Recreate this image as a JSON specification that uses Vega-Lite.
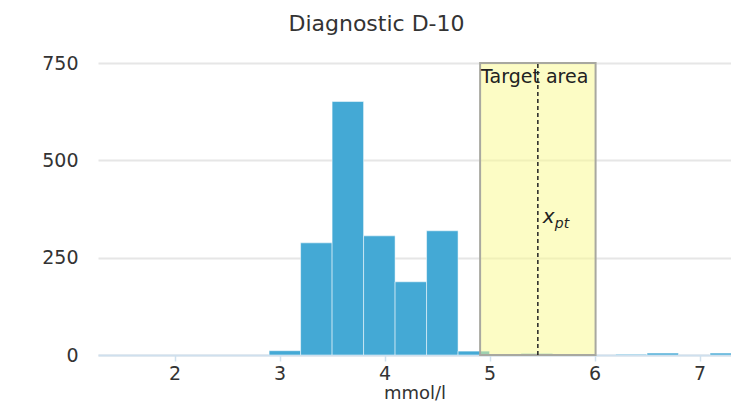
{
  "$schema": "https://vega.github.io/schema/vega-lite/v6.json",
  "autosize": "none",
  "padding": {"left": 98, "top": 63, "right": 0, "bottom": 52},
  "width": 633,
  "height": 292,
  "background": "white",
  "title": {"text": "Diagnostic D-10", "fontSize": 22, "font": "DejaVu Sans", "fontWeight": "normal", "color": "#333333", "anchor": "middle", "dx": -38, "offset": 18},
  "datasets": {
    "bins": [
      {"start": 2.9, "end": 3.2, "count": 11},
      {"start": 3.2, "end": 3.5, "count": 288},
      {"start": 3.5, "end": 3.8, "count": 651},
      {"start": 3.8, "end": 4.1, "count": 306},
      {"start": 4.1, "end": 4.4, "count": 188},
      {"start": 4.4, "end": 4.7, "count": 319},
      {"start": 4.7, "end": 5.0, "count": 10},
      {"start": 5.3, "end": 5.6, "count": 4},
      {"start": 6.2, "end": 6.5, "count": 2},
      {"start": 6.5, "end": 6.8, "count": 5},
      {"start": 7.1, "end": 7.4, "count": 5}
    ],
    "area": [{"x1": 4.91, "x2": 6.01, "y1": 0, "y2": 750, "xpt": 5.46, "label": "Target area"}]
  },
  "layer": [
    {
      "data": {"name": "bins"},
      "mark": {"type": "bar", "color": "#44a9d5", "stroke": "#ffffff", "strokeWidth": 1, "strokeOpacity": 0.5, "clip": true},
      "encoding": {
        "x": {"field": "start", "type": "quantitative", "scale": {"domain": [1.27, 7.3], "nice": false, "zero": false}, "axis": {"title": "mmol/l", "values": [2, 3, 4, 5, 6, 7], "format": "d", "grid": false, "domainColor": "#cfe0ee", "domainWidth": 2, "tickColor": "#cfe0ee", "tickSize": 6, "tickWidth": 1.5, "labelPadding": 3, "titlePadding": 1, "titleFontSize": 18}},
        "x2": {"field": "end"},
        "y": {"field": "count", "type": "quantitative", "scale": {"domain": [0, 750], "nice": false}, "axis": {"title": null, "values": [0, 250, 500, 750], "grid": true, "gridColor": "#e6e6e6", "gridWidth": 2, "domain": false, "ticks": false, "labelPadding": 20}},
        "y2": {"datum": 0}
      }
    },
    {
      "data": {"name": "area"},
      "mark": {"type": "rect", "fill": "#fafa8c", "fillOpacity": 0.5, "stroke": "#a8a8a0", "strokeWidth": 2},
      "encoding": {
        "x": {"field": "x1", "type": "quantitative"},
        "x2": {"field": "x2"},
        "y": {"field": "y1", "type": "quantitative"},
        "y2": {"field": "y2"}
      }
    },
    {
      "data": {"name": "area"},
      "mark": {"type": "rule", "color": "#222222", "strokeWidth": 1.5, "strokeDash": [4, 3]},
      "encoding": {
        "x": {"field": "xpt", "type": "quantitative"},
        "y": {"field": "y1", "type": "quantitative"},
        "y2": {"field": "y2"}
      }
    },
    {
      "data": {"name": "area"},
      "mark": {"type": "text", "align": "left", "baseline": "top", "dx": 1, "dy": 5, "fontSize": 19, "font": "DejaVu Sans", "color": "#222222"},
      "encoding": {
        "x": {"field": "x1", "type": "quantitative"},
        "y": {"field": "y2", "type": "quantitative"},
        "text": {"field": "label"}
      }
    },
    {
      "data": {"values": [{"x": 5.46, "y": 354, "t": "x"}]},
      "mark": {"type": "text", "align": "left", "baseline": "middle", "dx": 5, "fontSize": 20, "fontStyle": "italic", "font": "DejaVu Sans", "color": "#222222"},
      "encoding": {
        "x": {"field": "x", "type": "quantitative"},
        "y": {"field": "y", "type": "quantitative"},
        "text": {"field": "t"}
      }
    },
    {
      "data": {"values": [{"x": 5.46, "y": 336, "t": "pt"}]},
      "mark": {"type": "text", "align": "left", "baseline": "middle", "dx": 17, "fontSize": 14, "fontStyle": "italic", "font": "DejaVu Sans", "color": "#222222"},
      "encoding": {
        "x": {"field": "x", "type": "quantitative"},
        "y": {"field": "y", "type": "quantitative"},
        "text": {"field": "t"}
      }
    }
  ],
  "config": {
    "view": {"stroke": null},
    "axis": {"labelFont": "DejaVu Sans", "labelFontSize": 19, "labelColor": "#333333", "titleFont": "DejaVu Sans", "titleFontSize": 19, "titleFontWeight": "normal", "titleColor": "#333333"}
  }
}
